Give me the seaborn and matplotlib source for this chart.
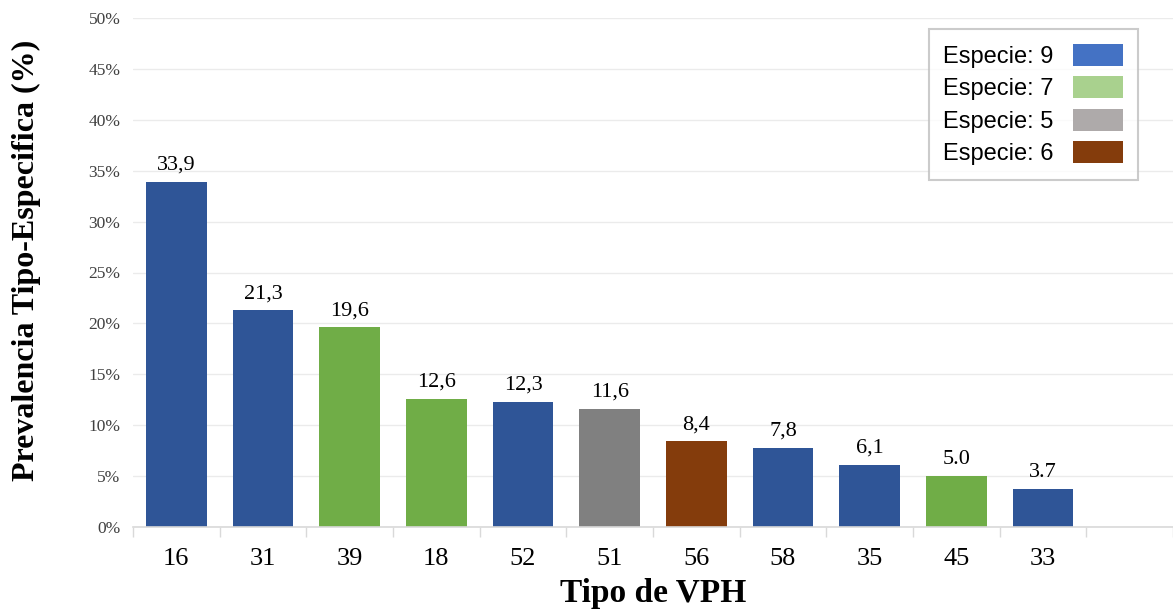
import matplotlib
matplotlib.use("Agg")
import matplotlib.pyplot as plt
from matplotlib.patches import Patch
from matplotlib.ticker import FixedLocator, FuncFormatter
import numpy as np
import pandas as pd
import seaborn as sns

# HPV types ordered by type-specific prevalence
tipos = ["16", "31", "39", "18", "52", "51", "56", "58", "35", "45", "33"]
prevalencia = [33.9, 21.3, 19.6, 12.6, 12.3, 11.6, 8.4, 7.8, 6.1, 5.0, 3.7]
especie = ["9", "9", "7", "7", "9", "5", "6", "9", "9", "7", "9"]
separador = [",", ",", ",", ",", ",", ",", ",", ",", ",", ".", "."]

especies_leyenda = ["9", "7", "5", "6"]
colores_barras = {"9": "#2F5597", "7": "#70AD47", "5": "#808080", "6": "#843C0C"}
colores_leyenda = {"9": "#4472C4", "7": "#A9D18E", "5": "#AEAAAA", "6": "#843C0C"}

df = pd.DataFrame({"tipo": tipos, "prev": prevalencia, "especie": especie})

sns.set_style("white")
serif = ["Liberation Serif", "DejaVu Serif"]
sans = ["Liberation Sans", "DejaVu Sans"]

fig = plt.figure(figsize=(11.73, 6.10), dpi=100)
ax = fig.add_axes([133 / 1173, 1 - 527 / 610, 1040 / 1173, (527 - 18) / 610])

sns.barplot(data=df, x="tipo", y="prev", hue="especie", order=tipos,
            palette=colores_barras, dodge=False, width=0.7, legend=False,
            saturation=1, linewidth=0, ax=ax)

# one empty slot after the last type
ax.set_xlim(-0.5, len(tipos) + 0.5)
ax.set_ylim(0, 50)

ax.yaxis.set_major_locator(FixedLocator(np.arange(0, 51, 5)))
ax.yaxis.set_major_formatter(FuncFormatter(lambda v, p: f"{v:.0f}%"))
ax.grid(axis="y", color="#EBEBEB", linewidth=1)
ax.set_axisbelow(True)

for s in ["top", "right", "left"]:
    ax.spines[s].set_visible(False)
ax.spines["bottom"].set_color("#D9D9D9")
ax.spines["bottom"].set_linewidth(1.2)

ax.xaxis.set_minor_locator(FixedLocator(np.arange(-0.5, len(tipos) + 1, 1)))
ax.tick_params(axis="x", which="minor", length=7, width=1, color="#D9D9D9",
               direction="out", bottom=True)
ax.tick_params(axis="x", which="major", length=0, pad=15)
ax.tick_params(axis="y", length=0, pad=9)
for lab in ax.get_xticklabels():
    lab.set_fontfamily(serif)
    lab.set_fontsize(19)
    lab.set_color("black")
for lab in ax.get_yticklabels():
    lab.set_fontfamily(serif)
    lab.set_fontsize(12.5)
    lab.set_color("#404040")

# value labels above each bar
for i, (v, sep) in enumerate(zip(prevalencia, separador)):
    ax.annotate(f"{v:.1f}".replace(".", sep), (i, v), xytext=(0, 5),
                textcoords="offset points", ha="center", va="bottom",
                fontsize=16, family=serif, color="black")

ax.set_xlabel("Tipo de VPH", fontsize=24, fontweight="bold", family=serif,
              color="black", labelpad=6)
ax.set_ylabel("Prevalencia Tipo-Especifica (%)", fontsize=23,
              fontweight="bold", family=serif, color="black")
ax.yaxis.set_label_coords(-0.088, 0.524)

handles = [Patch(facecolor=colores_leyenda[e], edgecolor="none") for e in especies_leyenda]
labels = [f"Especie: {e}" for e in especies_leyenda]
leg = ax.legend(handles, labels, loc="upper right",
                bbox_to_anchor=(1138 / 1173, 1 - 29 / 610),
                bbox_transform=fig.transFigure, borderaxespad=0,
                markerfirst=False, frameon=True, fancybox=False,
                prop={"family": sans, "size": 17},
                handlelength=2.15, handleheight=1.05, handletextpad=0.8,
                labelspacing=0.36, borderpad=0.62)
for t in leg.get_texts():
    t.set_color("black")
leg.get_frame().set_edgecolor("#BFBFBF")
leg.get_frame().set_linewidth(1.5)

fig.savefig("out.png", dpi=100, facecolor="white")
